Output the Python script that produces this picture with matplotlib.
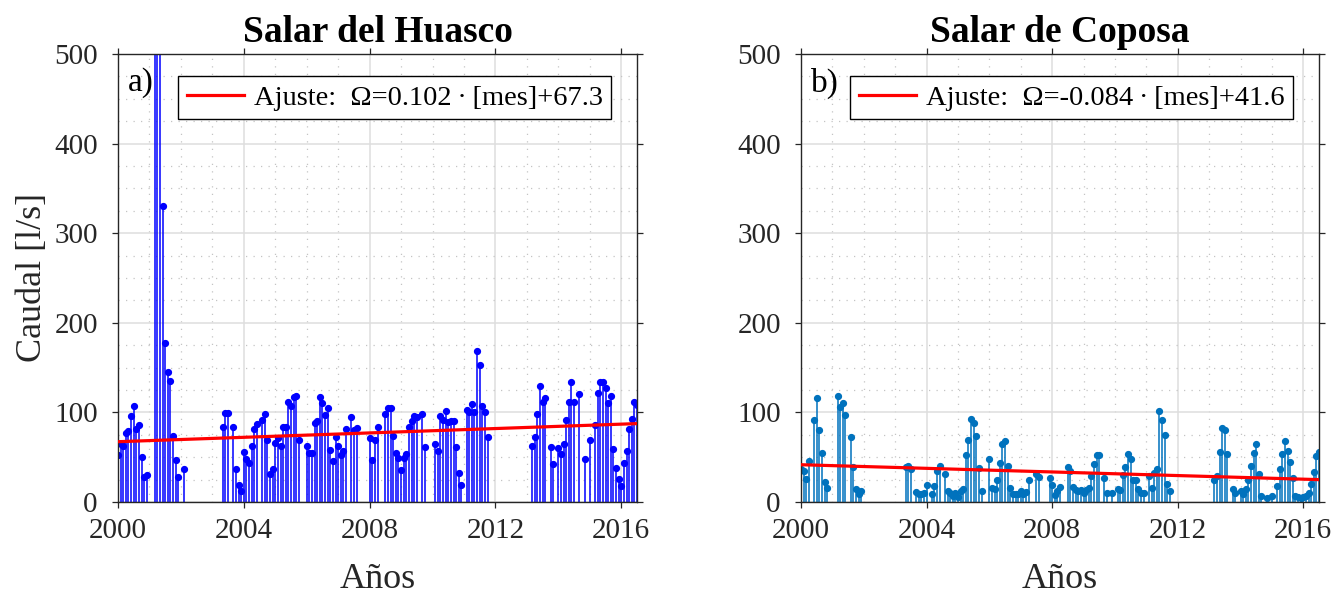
import numpy as np
import matplotlib
matplotlib.use("Agg")
import matplotlib.pyplot as plt
from matplotlib.ticker import MultipleLocator

plt.rcParams["font.family"] = ["Liberation Serif", "DejaVu Serif"]
plt.rcParams["mathtext.fontset"] = "stix"

nan = np.nan

# Monthly discharge [l/s], January 2000 .. July 2016 (199 months); nan = no record
huasco = [
    52, 65, 63, 77, 79, 96, 107, 82, 86, 50, 28, 30,            # 2000
    nan, nan, 900, 720, 600, 330, 178, 145, 135, 74, 47, 28,    # 2001
    nan, 37, nan, nan, nan, nan, nan, nan, nan, nan, nan, nan,  # 2002
    nan, nan, nan, nan, 84, 99, 99, nan, 84, 37, 19, 12,        # 2003
    56, 48, 44, 62, 81, 87, nan, 91, 98, 69, 31, 37,            # 2004
    66, 71, 62, 84, 84, 112, 107, 117, 118, 69, nan, nan,       # 2005
    62, 55, 55, 88, 90, 117, 111, 97, 105, 58, 46, 72,          # 2006
    63, 52, 57, 82, nan, 95, 80, 83, nan, nan, nan, nan,        # 2007
    71, 47, 69, 84, nan, nan, 98, 105, 105, 74, 55, 49,         # 2008
    36, 49, 54, 84, 90, 96, 95, nan, 98, 61, nan, nan,          # 2009
    nan, 65, 57, 96, 92, 102, 89, 90, 90, 61, 32, 19,           # 2010
    nan, 103, 101, 109, 101, 169, 153, 107, 100, 72, nan, nan,  # 2011
    nan, nan, nan, nan, nan, nan, nan, nan, nan, nan, nan, nan, # 2012
    nan, nan, 62, 72, 98, 129, 112, 116, nan, 61, 42, nan,      # 2013
    60, 54, 65, 91, 112, 134, 112, nan, 120, nan, 48, nan,      # 2014
    69, nan, 86, 122, 134, 134, 127, 111, 118, 59, 38, 26,      # 2015
    18, 43, 57, 81, 93, 112, 108,                               # 2016
]

coposa = [
    37, 35, 26, 46, nan, 91, 116, 80, 55, 22, 16, nan,          # 2000
    nan, nan, 118, 106, 110, 97, nan, 73, 39, 14, 9, 12,        # 2001
    nan, nan, nan, nan, nan, nan, nan, nan, nan, nan, nan, nan, # 2002
    nan, nan, nan, nan, 39, 40, 37, nan, 11, 9, 9, 10,          # 2003
    19, nan, 9, 18, 35, 40, nan, 31, 12, 10, 7, 10,             # 2004
    6, 12, 14, 53, 69, 93, 88, 74, 38, 12, nan, nan,            # 2005
    48, 16, 15, 25, 44, 65, 68, 40, 16, 9, 9, 9,                # 2006
    12, 9, 11, 25, nan, nan, 31, 28, nan, nan, nan, 27,         # 2007
    19, 8, 12, 17, nan, nan, 39, 35, 17, 13, 12, 13,            # 2008
    10, 13, 16, 29, 42, 52, 52, nan, 27, 10, nan, 10,           # 2009
    nan, 14, 13, 30, 39, 54, 48, 25, 25, 14, 10, 10,            # 2010
    nan, 29, 16, 32, 37, 102, 92, 75, 20, 12, nan, nan,         # 2011
    nan, nan, nan, nan, nan, nan, nan, nan, nan, nan, nan, nan, # 2012
    nan, nan, 24, 29, 56, 83, 80, 54, nan, 15, 10, nan,         # 2013
    12, 9, 15, 24, 40, 55, 65, 31, 7, nan, 5, nan,              # 2014
    7, nan, 18, 37, 54, 68, 57, 45, 27, 7, 6, 5,                # 2015
    6, 7, 10, 20, 34, 51, 56,                                   # 2016
]

# Linear fits: caudal = slope * month_index + intercept
fit_huasco = (0.102, 67.3)
fit_coposa = (-0.084, 41.6)

titles = ["Salar del Huasco", "Salar de Coposa"]
panel_tags = ["a)", "b)"]
fit_labels = [
    "Ajuste:  \u03a9=0.102\u2009\u00b7\u2009[mes]+67.3",
    "Ajuste:  \u03a9=-0.084\u2009\u00b7\u2009[mes]+41.6",
]
stem_colors = ["#0000ff", "#0072bd"]
year_ticks = [2000, 2004, 2008, 2012, 2016]
y_ticks = [0, 100, 200, 300, 400, 500]

W, H = 1343, 595
fig = plt.figure(figsize=(W / 100, H / 100), dpi=100)
ax_boxes = [(118, 54, 519, 448), (801, 54, 518, 448)]

frame_col = "#262626"

for i, (vals, fit) in enumerate([(huasco, fit_huasco), (coposa, fit_coposa)]):
    x0, y0, w, h = ax_boxes[i]
    ax = fig.add_axes([x0 / W, 1 - (y0 + h) / H, w / W, h / H])
    vals = np.asarray(vals, dtype=float)
    months = np.arange(len(vals))
    t = 2000 + months / 12.0
    ok = ~np.isnan(vals)

    ax.grid(True, which="major", color="#dedede", linewidth=1.1, linestyle="-")
    ax.grid(True, which="minor", color="#c4c4c4", linewidth=0.9, linestyle=(0, (1, 5)))
    ax.set_axisbelow(True)

    sc = ax.stem(t[ok], vals[ok], linefmt="-", markerfmt="o", basefmt=" ")
    sc.stemlines.set_color(stem_colors[i])
    sc.stemlines.set_linewidth(1.1)
    sc.markerline.set_color(stem_colors[i])
    sc.markerline.set_markersize(4.2)
    sc.baseline.set_visible(False)

    slope, icpt = fit
    ax.plot(t, slope * months + icpt, color="#ff0000", linewidth=2.3,
            label=fit_labels[i], zorder=4)

    ax.set_xlim(t[0], t[-1])
    ax.set_ylim(0, 500)
    ax.set_xticks(year_ticks)
    ax.set_yticks(y_ticks)
    ax.xaxis.set_minor_locator(MultipleLocator(1))
    ax.yaxis.set_minor_locator(MultipleLocator(25))
    ax.tick_params(which="major", direction="out", length=4.5, width=0.9,
                   colors=frame_col, labelsize=21, top=True, right=True)
    ax.tick_params(axis="y", which="major", pad=10)
    ax.tick_params(axis="x", which="major", pad=7)
    ax.tick_params(which="minor", length=0, top=True, right=True)
    for sp in ax.spines.values():
        sp.set_color(frame_col)
        sp.set_linewidth(1.0)

    ax.set_title(titles[i], fontsize=27, fontweight="bold", pad=9)
    ax.set_xlabel("Años", fontsize=26, color=frame_col, labelpad=14)
    if i == 0:
        ax.set_ylabel("Caudal [l/s]", fontsize=26, color=frame_col, labelpad=4)

    ax.text(0.019, 0.97, panel_tags[i], transform=ax.transAxes, fontsize=24,
            va="top", ha="left")

    leg = ax.legend(loc="upper right", bbox_to_anchor=(0.95, 0.95),
                    borderaxespad=0, fontsize=20.5, fancybox=False,
                    framealpha=1, edgecolor="#000000", handlelength=2.0,
                    handletextpad=0.35, borderpad=0.3)
    leg.get_frame().set_linewidth(1.0)

fig.savefig("out.png", dpi=100)
